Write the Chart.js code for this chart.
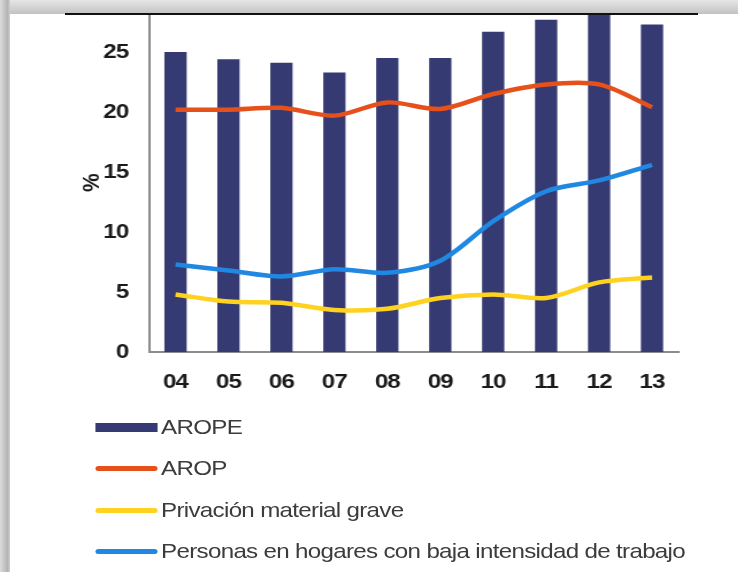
<!DOCTYPE html>
<html>
<head>
<meta charset="utf-8">
<script src="https://cdn.jsdelivr.net/npm/chart.js@4.4.0/dist/chart.umd.min.js"></script>
<style>
    html, body {
        margin: 0;
        padding: 0;
        width: 738px;
        height: 572px;
        overflow: hidden;
        background: #ffffff;
        font-family: "Liberation Sans", Arial, sans-serif;
    }
    .top-band {
        position: absolute;
        left: 0;
        top: 0;
        width: 738px;
        height: 14px;
        background: linear-gradient(to bottom, #e6e6e6, #c2c2c2);
    }
    .left-shadow {
        position: absolute;
        left: 0;
        top: 0;
        width: 10px;
        height: 572px;
        background: linear-gradient(to right, #dcdcdc, #b4b4b4 75%, #cfcfcf);
    }
    .top-rule {
        position: absolute;
        left: 65px;
        top: 13px;
        width: 633px;
        height: 2px;
        background: #111;
    }
    /* chart and legend are laid out narrow, then widened */
    .stage {
        position: absolute;
        left: 0;
        top: 0;
        width: 642px;
        height: 572px;
        transform: scaleX(1.15);
        transform-origin: 0 0;
    }
    #chart {
        position: absolute;
        left: 0;
        top: 0;
    }
    .legend-row {
        position: absolute;
        left: 83px;
        height: 24px;
        display: flex;
        align-items: center;
        white-space: nowrap;
        font-size: 21px;
        letter-spacing: -0.6px;
        color: #3c3c3c;
    }
    .legend-swatch {
        width: 54px;
        border-radius: 3px;
        margin-right: 3px;
    }
</style>
</head>
<body>
<div class="top-band"></div>
<div class="left-shadow"></div>
<div class="stage">
    <canvas id="chart" width="642" height="400"></canvas>
    <div id="legend"></div>
</div>
<div class="top-rule"></div>

<script>
// Data
const years = ['04', '05', '06', '07', '08', '09', '10', '11', '12', '13'];
const arope = [25.0, 24.4, 24.1, 23.3, 24.5, 24.5, 26.7, 27.7, 28.2, 27.3];
const arop = [20.2, 20.2, 20.35, 19.7, 20.8, 20.25, 21.5, 22.3, 22.3, 20.4];
const privacion = [4.8, 4.2, 4.1, 3.5, 3.6, 4.5, 4.8, 4.5, 5.8, 6.2];
const bajaIntensidad = [7.3, 6.8, 6.3, 6.9, 6.6, 7.6, 10.9, 13.4, 14.3, 15.6];

const seriesNames = ['AROPE', 'AROP', 'Privación material grave', 'Personas en hogares con baja intensidad de trabajo'];
const seriesColors = ['#353a72', '#e6501b', '#ffd21f', '#2088e2'];

const yMin = 0;
const yMax = 28.17;
const yStep = 5;

// tighter glyph spacing for the axis labels
const tightText = {
    id: 'tightText',
    beforeDraw(chart) {
        chart.ctx.letterSpacing = '-0.8px';
    }
};

window.buildChart = function () {
    if (typeof Chart === 'undefined') {
        console.error('Chart.js is not loaded');
        return;
    }

    const ctx = document.getElementById('chart');
    const font = "'Liberation Sans', Arial, sans-serif";

    const lineSet = (label, data, color) => ({
        type: 'line',
        label: label,
        data: data,
        borderColor: color,
        backgroundColor: color,
        borderWidth: 4.5,
        pointRadius: 0,
        tension: 0.3,
        order: 1
    });

    new Chart(ctx.getContext('2d'), {
        type: 'bar',
        data: {
            labels: years,
            datasets: [
                {
                    label: seriesNames[0],
                    data: arope,
                    backgroundColor: seriesColors[0],
                    borderWidth: 0,
                    barPercentage: 0.42,
                    categoryPercentage: 1.0,
                    order: 4
                },
                lineSet(seriesNames[1], arop, seriesColors[1]),
                lineSet(seriesNames[2], privacion, seriesColors[2]),
                lineSet(seriesNames[3], bajaIntensidad, seriesColors[3])
            ]
        },
        options: {
            responsive: false,
            animation: false,
            devicePixelRatio: 1,
            layout: {
                padding: { top: 14, left: 68, right: 52, bottom: 0 }
            },
            plugins: {
                legend: { display: false },
                tooltip: { enabled: false }
            },
            scales: {
                x: {
                    grid: { display: false, drawTicks: false },
                    border: { display: true, color: '#8c8c8c', width: 2 },
                    ticks: {
                        color: '#1a1a1a',
                        padding: 18,
                        font: { family: font, size: 21, weight: 'bold' }
                    },
                    afterFit: function (scale) {
                        scale.height = 48;
                        scale.paddingLeft = 0;
                        scale.paddingRight = 0;
                    }
                },
                y: {
                    min: yMin,
                    max: yMax,
                    grid: { display: false, drawTicks: false },
                    border: { display: true, color: '#8c8c8c', width: 2 },
                    ticks: {
                        stepSize: yStep,
                        includeBounds: false,
                        color: '#1a1a1a',
                        padding: 18,
                        font: { family: font, size: 21, weight: 'bold' }
                    },
                    title: {
                        display: true,
                        text: '%',
                        color: '#1a1a1a',
                        padding: 0,
                        font: { family: font, size: 21, weight: 'bold' }
                    },
                    afterFit: function (scale) {
                        // keep the plot top on the rule line
                        scale.width = 61.6;
                        scale.paddingTop = 0;
                        scale.paddingBottom = 0;
                    }
                }
            }
        },
        plugins: [tightText]
    });
};

// Vertical legend under the plot
window.buildLegend = function () {
    const rowCenters = [427, 468, 510, 551];
    const swatchHeights = [9, 5, 5, 5];
    const box = document.getElementById('legend');

    seriesNames.forEach((name, i) => {
        const row = document.createElement('div');
        row.className = 'legend-row';
        row.style.top = (rowCenters[i] - 12) + 'px';

        const swatch = document.createElement('span');
        swatch.className = 'legend-swatch';
        swatch.style.height = swatchHeights[i] + 'px';
        swatch.style.background = seriesColors[i];
        if (i === 0) swatch.style.borderRadius = '0';

        const text = document.createElement('span');
        text.textContent = name;

        row.appendChild(swatch);
        row.appendChild(text);
        box.appendChild(row);
    });
};

window.buildChart();
window.buildLegend();
</script>
</body>
</html>
